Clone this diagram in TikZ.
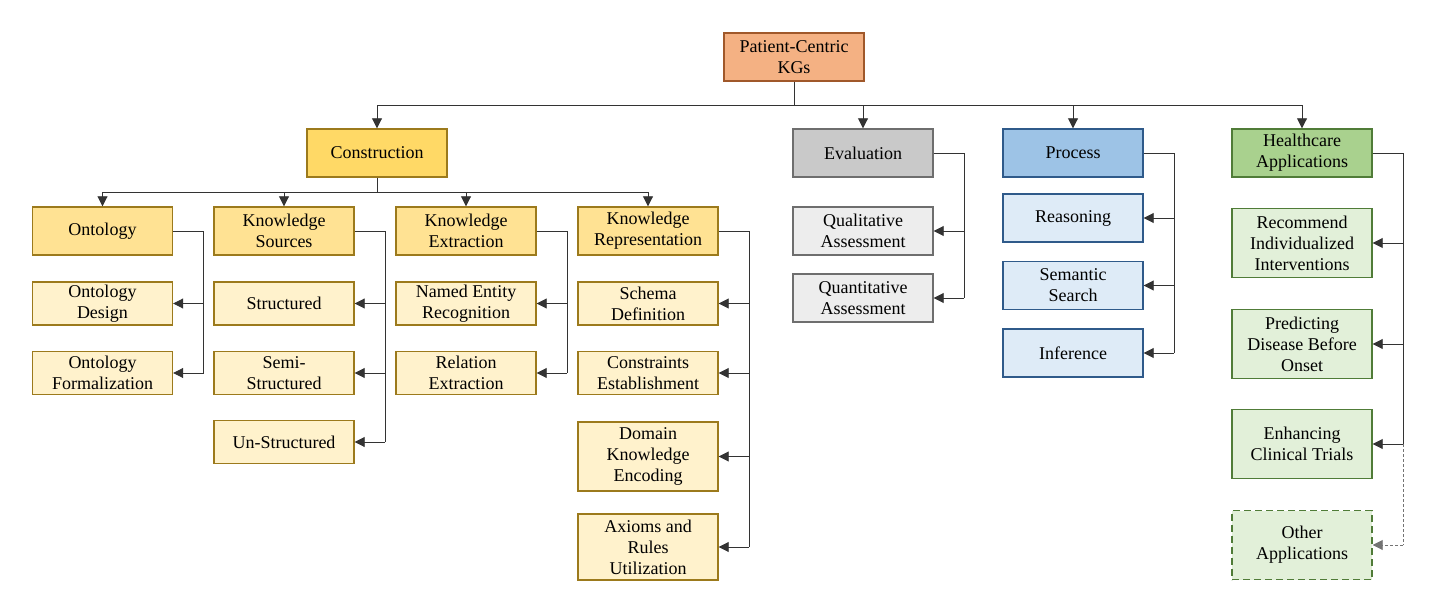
\documentclass[tikz,border=0pt]{standalone}
\usepackage{fontspec}
\setmainfont{Liberation Serif}
\newfontfamily\tnr{Liberation Serif}
\usetikzlibrary{arrows.meta}
\definecolor{rootF}{HTML}{F4B183}\definecolor{rootD}{HTML}{A0582A}
\definecolor{conF}{HTML}{FFD966}\definecolor{conD}{HTML}{9C7A1C}
\definecolor{midF}{HTML}{FFE293}\definecolor{leafF}{HTML}{FFF2CC}
\definecolor{evF}{HTML}{C9C9C9}\definecolor{evD}{HTML}{6E6E6E}\definecolor{evL}{HTML}{EDEDED}
\definecolor{prF}{HTML}{9DC3E6}\definecolor{prD}{HTML}{2F5A8A}\definecolor{prL}{HTML}{DEEBF7}
\definecolor{hcF}{HTML}{A9D18E}\definecolor{hcD}{HTML}{507C38}\definecolor{hcL}{HTML}{E2F0D9}
\tikzset{
  x=1pt,y=-1pt,
  box/.style={draw, line width=1.4pt, minimum width=140pt, minimum height=48pt, align=center, inner sep=1pt,
    font=\tnr\fontsize{18}{21}\selectfont},
  rootbox/.style={box, fill=rootF, draw=rootD},
  conbox/.style={box, fill=conF, draw=conD},
  midbox/.style={box, fill=midF, draw=conD},
  leafbox/.style={box, fill=leafF, draw=conD, minimum height=43pt},
  evbox/.style={box, fill=evF, draw=evD},
  evleaf/.style={box, fill=evL, draw=evD},
  prbox/.style={box, fill=prF, draw=prD},
  prleaf/.style={box, fill=prL, draw=prD},
  hcbox/.style={box, fill=hcF, draw=hcD},
  hcleaf/.style={box, fill=hcL, draw=hcD, minimum height=69pt},
  conn/.style={line width=0.9pt, draw=black!80},
  arr/.style={conn, -{Triangle[length=10pt,width=10pt]}},
}
\begin{document}
\begin{tikzpicture}
\useasboundingbox (0,0) rectangle (1430,612);
% top
\node[rootbox] (root) at (794,57) {Patient-Centric\\KGs};
\node[conbox] (con) at (377,153) {Construction};
\node[evbox] (ev) at (863,153) {Evaluation};
\node[prbox] (pr) at (1073,153) {Process};
\node[hcbox] (hc) at (1302,153) {Healthcare\\Applications};
% construction level
\node[midbox] (ont) at (102.5,231) {Ontology};
\node[midbox] (ks) at (284,231) {Knowledge\\Sources};
\node[midbox] (ke) at (466,231) {Knowledge\\Extraction};
\node[midbox] (kr) at (648,231) {Knowledge\\Representation};
% leaves
\node[leafbox] (od) at (102.5,303.5) {Ontology\\Design};
\node[leafbox] (of) at (102.5,373) {Ontology\\Formalization};
\node[leafbox] (st) at (284,303.5) {Structured};
\node[leafbox] (ss) at (284,373) {Semi-\\Structured};
\node[leafbox] (us) at (284,442) {Un-Structured};
\node[leafbox] (ner) at (466,303.5) {Named Entity\\Recognition};
\node[leafbox] (re) at (466,373) {Relation\\Extraction};
\node[leafbox] (sd) at (648,303.5) {Schema\\Definition};
\node[leafbox] (ce) at (648,373) {Constraints\\Establishment};
\node[leafbox, minimum height=69pt] (dk) at (648,456.5) {Domain\\Knowledge\\Encoding};
\node[leafbox, minimum height=66pt] (ax) at (648,547) {Axioms and\\Rules\\Utilization};
% evaluation
\node[evleaf] (qual) at (863,231) {Qualitative\\Assessment};
\node[evleaf] (quan) at (863,298) {Quantitative\\Assessment};
% process
\node[prleaf] (rea) at (1073,218) {Reasoning};
\node[prleaf] (sem) at (1073,285.5) {Semantic\\Search};
\node[prleaf] (inf) at (1073,353) {Inference};
% healthcare
\node[hcleaf] (rec) at (1302,243) {Recommend\\Individualized\\Interventions};
\node[hcleaf] (pred) at (1302,344) {Predicting\\Disease Before\\Onset};
\node[hcleaf] (enh) at (1302,444) {Enhancing\\Clinical Trials};
\node[hcleaf, dash pattern=on 7pt off 4pt] (oth) at (1302,545) {Other\\Applications};
% root bus
\coordinate (rb) at (794,105);
\draw[conn] (root.south) -- (rb);
\foreach \c in {con,ev,pr,hc} \draw[arr] (rb) -| (\c.north);
% construction bus
\coordinate (cb) at (377,192);
\draw[conn] (con.south) -- (cb);
\foreach \c in {ont,ks,ke,kr} \draw[arr] (cb) -| (\c.north);
% side connectors
\coordinate (ontc) at (203.5,231);
\draw[conn] (ont.east) -- (ontc) -- (ontc |- of.east);
\foreach \c in {od,of} \draw[arr] (ontc |- \c.east) -- (\c.east);
\coordinate (ksc) at (385,231);
\draw[conn] (ks.east) -- (ksc) -- (ksc |- us.east);
\foreach \c in {st,ss,us} \draw[arr] (ksc |- \c.east) -- (\c.east);
\coordinate (kec) at (567,231);
\draw[conn] (ke.east) -- (kec) -- (kec |- re.east);
\foreach \c in {ner,re} \draw[arr] (kec |- \c.east) -- (\c.east);
\coordinate (krc) at (749,231);
\draw[conn] (kr.east) -- (krc) -- (krc |- ax.east);
\foreach \c in {sd,ce,dk,ax} \draw[arr] (krc |- \c.east) -- (\c.east);
\coordinate (evc) at (964,153);
\draw[conn] (ev.east) -- (evc) -- (evc |- quan.east);
\foreach \c in {qual,quan} \draw[arr] (evc |- \c.east) -- (\c.east);
\coordinate (prc) at (1174,153);
\draw[conn] (pr.east) -- (prc) -- (prc |- inf.east);
\foreach \c in {rea,sem,inf} \draw[arr] (prc |- \c.east) -- (\c.east);
\coordinate (hcc) at (1403,153);
\draw[conn] (hc.east) -- (hcc) -- (hcc |- enh.east);
\foreach \c in {rec,pred,enh} \draw[arr] (hcc |- \c.east) -- (\c.east);
\draw[conn, dash pattern=on 3pt off 2pt, draw=black!55] (hcc |- enh.east) -- (hcc |- oth.east);
\draw[arr, dash pattern=on 3pt off 2pt, draw=black!55] (hcc |- oth.east) -- (oth.east);
\end{tikzpicture}
\end{document}
